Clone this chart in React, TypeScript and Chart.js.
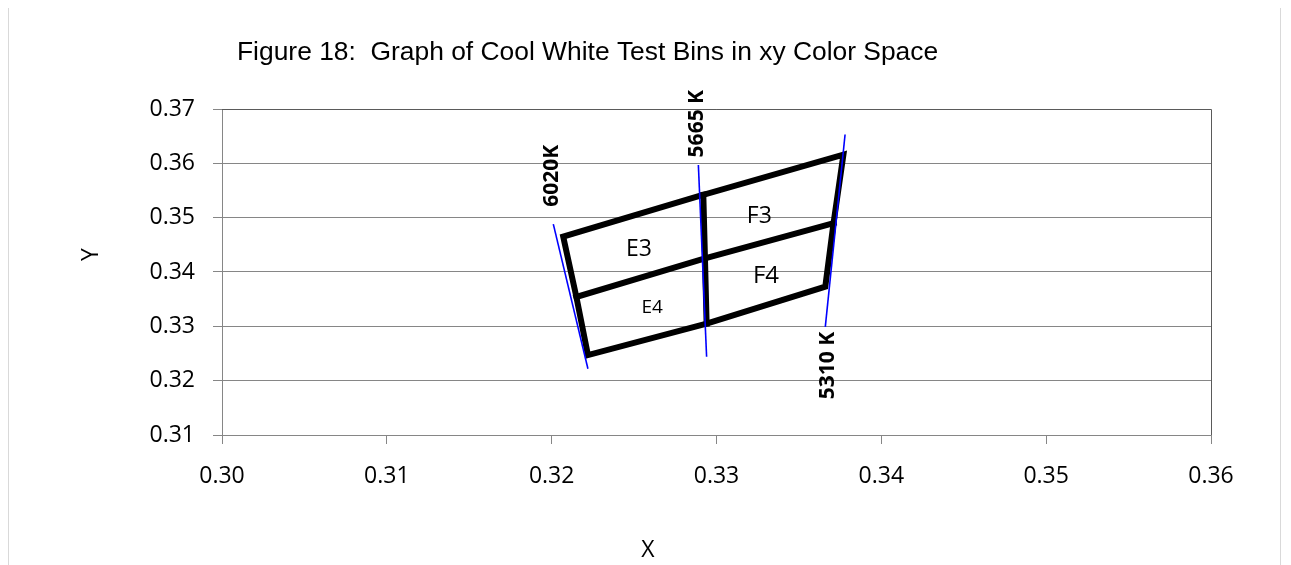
import { useEffect, useRef } from 'react';
import { Chart, registerables } from 'chart.js';

Chart.register(...registerables);

// ---- data ----
const xTicks = [0.30, 0.31, 0.32, 0.33, 0.34, 0.35, 0.36];
const xTickLabels = ['0.30', '0.31', '0.32', '0.33', '0.34', '0.35', '0.36'];
const yTicks = [0.31, 0.32, 0.33, 0.34, 0.35, 0.36, 0.37];
const yTickLabels = ['0.31', '0.32', '0.33', '0.34', '0.35', '0.36', '0.37'];

// bin outline (starts at top-middle, goes clockwise)
const outlineX = [0.3292, 0.3377, 0.3371, 0.3366, 0.3294, 0.3222, 0.3215, 0.3207, 0.3292];
const outlineY = [0.3542, 0.3616, 0.3490, 0.3373, 0.3305, 0.3247, 0.3354, 0.3465, 0.3542];
// middle divider
const midX = [0.3215, 0.3293, 0.3371];
const midY = [0.3354, 0.3425, 0.3490];
// centre divider
const centreX = [0.3292, 0.3293, 0.3294];
const centreY = [0.3542, 0.3425, 0.3305];

// isotherm lines
const iso6020X = [0.3201, 0.3222];
const iso6020Y = [0.3488, 0.3222];
const iso5665X = [0.3289, 0.3294];
const iso5665Y = [0.3597, 0.3244];
const iso5310X = [0.3378, 0.3366];
const iso5310Y = [0.3653, 0.3299];

// labels
const binNames = ['E3', 'E4', 'F3', 'F4'];
const binLabelX = [0.3253, 0.3261, 0.3326, 0.3330];
const binLabelY = [0.3444, 0.3337, 0.3505, 0.3396];
const cctNames = ['6020K', '5665 K', '5310 K'];
const cctLabelX = [0.3199, 0.3287, 0.3367];
const cctLabelY = [0.3577, 0.3673, 0.3228];

const titleText = 'Figure 18:  Graph of Cool White Test Bins in xy Color Space';
const xTitle = 'X';
const yTitle = 'Y';

// ---- styles ----
const W = 1271;
const H = 600;
const binFontSizes = [23, 19, 23, 24];
const SANS = '"Open Sans", sans-serif';
const GRID = '#868686';

const pts = (xs: number[], ys: number[]) => xs.map((x, i) => ({ x, y: ys[i] }));

function drawCentered(ctx: CanvasRenderingContext2D, text: string, cx: number, cy: number, font: string, size: number, rotate: boolean) {
  ctx.save();
  ctx.translate(cx, cy);
  if (rotate) ctx.rotate(-Math.PI / 2);
  ctx.font = font;
  ctx.textAlign = 'center';
  ctx.textBaseline = 'alphabetic';
  ctx.fillText(text, 0, size * 0.357);
  ctx.restore();
}

const annotPlugin = {
  id: 'annot',
  beforeDatasetsDraw(chart: any) {
    const { ctx, chartArea } = chart;
    ctx.save();
    ctx.strokeStyle = '#5a5a5a';
    ctx.lineWidth = 1;
    ctx.beginPath();
    ctx.moveTo(chartArea.left, Math.round(chartArea.top) + 0.5);
    ctx.lineTo(Math.round(chartArea.right) + 0.5, Math.round(chartArea.top) + 0.5);
    ctx.lineTo(Math.round(chartArea.right) + 0.5, chartArea.bottom);
    ctx.stroke();
    ctx.restore();
  },
  afterDatasetsDraw(chart: any) {
    const { ctx, chartArea, scales } = chart;
    const xs = scales.x;
    const ys = scales.y;
    ctx.save();
    ctx.fillStyle = '#000';
    binNames.forEach((t, i) => {
      const s = binFontSizes[i];
      drawCentered(ctx, t, xs.getPixelForValue(binLabelX[i]), ys.getPixelForValue(binLabelY[i]), `${s}px ${SANS}`, s, false);
    });
    cctNames.forEach((t, i) => {
      drawCentered(ctx, t, xs.getPixelForValue(cctLabelX[i]), ys.getPixelForValue(cctLabelY[i]), `bold 21px ${SANS}`, 21, true);
    });
    // chart title
    ctx.font = '26.4px "Liberation Sans", Arial, sans-serif';
    ctx.textAlign = 'left';
    ctx.textBaseline = 'alphabetic';
    ctx.fillText(titleText, chartArea.left + 15, 55);
    // axis titles
    drawCentered(ctx, yTitle, 81, 249.5, `23px ${SANS}`, 23, true);
    drawCentered(ctx, xTitle, 639, 544, `23px ${SANS}`, 23, false);
    ctx.restore();
  },
};

const blackLine = (data: { x: number; y: number }[]) => ({
  data,
  showLine: true,
  borderColor: '#000',
  backgroundColor: '#000',
  borderWidth: 6,
  pointRadius: 0,
  tension: 0,
  fill: false,
  borderJoinStyle: 'miter' as const,
  borderCapStyle: 'square' as const,
});
const blueLine = (data: { x: number; y: number }[]) => ({
  data,
  showLine: true,
  borderColor: '#0000ff',
  backgroundColor: '#0000ff',
  borderWidth: 1.6,
  pointRadius: 0,
  tension: 0,
  fill: false,
});

export default function App() {
  const ref = useRef<HTMLCanvasElement>(null);
  useEffect(() => {
    const chart = new Chart(ref.current as HTMLCanvasElement, {
      type: 'scatter',
      data: {
        datasets: [
          blueLine(pts(iso6020X, iso6020Y)),
          blueLine(pts(iso5665X, iso5665Y)),
          blueLine(pts(iso5310X, iso5310Y)),
          blackLine(pts(outlineX, outlineY)),
          blackLine(pts(midX, midY)),
          blackLine(pts(centreX, centreY)),
        ] as any,
      },
      options: {
        responsive: false,
        animation: false,
        devicePixelRatio: 1,
        layout: { padding: { left: 0, right: 69, top: 104, bottom: 70 } },
        plugins: { legend: { display: false }, tooltip: { enabled: false }, title: { display: false } },
        scales: {
          x: {
            type: 'linear',
            min: 0.30,
            max: 0.36,
            afterFit: (s: any) => { s.height = 100; },
            afterBuildTicks: (s: any) => { s.ticks = xTicks.map((v) => ({ value: v })); },
            ticks: {
              callback: (_v: any, i: number) => xTickLabels[i],
              font: { family: SANS, size: 23 },
              color: '#000',
              padding: 19,
              maxRotation: 0,
            },
            grid: { drawOnChartArea: false, drawTicks: true, tickLength: 9, color: GRID },
            border: { color: GRID, width: 1 },
          },
          y: {
            type: 'linear',
            min: 0.31,
            max: 0.37,
            afterFit: (s: any) => { s.width = 213; },
            afterBuildTicks: (s: any) => { s.ticks = yTicks.map((v) => ({ value: v })); },
            ticks: {
              callback: (_v: any, i: number) => yTickLabels[i],
              font: { family: SANS, size: 23 },
              color: '#000',
              padding: 18,
            },
            grid: { drawOnChartArea: true, drawTicks: true, tickLength: 9, color: GRID },
            border: { color: GRID, width: 1 },
          },
        },
      },
      plugins: [annotPlugin],
    });
    return () => chart.destroy();
  }, []);
  return (
    <div
      style={{
        width: W,
        height: H,
        border: '1px solid #d9d9d9',
        marginTop: -4,
        background: '#fff',
        overflow: 'hidden',
      }}
    >
      <canvas ref={ref} width={W} height={H} style={{ display: 'block', width: W, height: H }} />
    </div>
  );
}
